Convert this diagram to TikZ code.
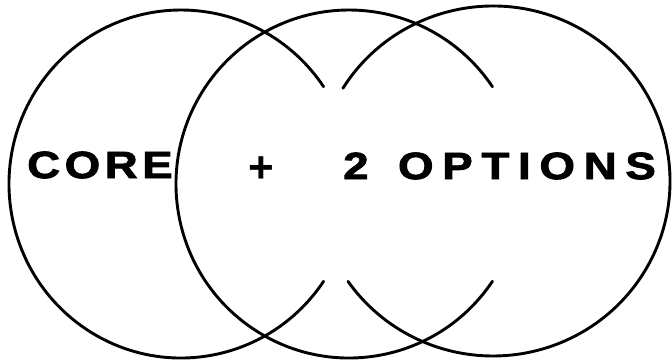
\documentclass[tikz,border=0pt]{standalone}
\usepackage{fontspec}
\setmainfont{Liberation Sans}
\newfontfamily\heavy[FakeBold=2]{Liberation Sans Bold}
\newcommand\trkA{\kern3.8pt}
\newcommand\trkB{\kern7.3pt}
\begin{document}
\begin{tikzpicture}[x=1pt,y=-1pt,
  ring/.style={line width=2.9pt,line cap=round},
  label/.style={inner sep=0pt,font=\heavy\fontsize{38}{42}\selectfont,xscale=1.2}]
\useasboundingbox (0,0) rectangle (672,362);
\coordinate (cl) at (181,184);
\coordinate (cm) at (349,184);
\coordinate (cr) at (493,181);
% left circle, gap on the right
\draw[ring] (cl) ++(34:172 and 174) arc[start angle=34,end angle=326,x radius=172,y radius=174];
% middle circle, gap on the right
\draw[ring] (cm) ++(34:173 and 174) arc[start angle=34,end angle=326,x radius=173,y radius=174];
% right circle, gap on the left
\draw[ring] (cr) ++(212:177 and 175) arc[start angle=212,end angle=505,x radius=177,y radius=175];
\node[label,anchor=west] (core) at (27,165) {C\trkA O\trkA R\trkA E};
\node[inner sep=0pt,font=\bfseries\fontsize{44}{48}\selectfont] (plus) at (261,170) {+};
\node[label,anchor=west] (opt) at (343,166) {2 \kern14pt O\trkB P\trkB T\trkB I\trkB O\trkB N\trkB S};
\end{tikzpicture}
\end{document}
